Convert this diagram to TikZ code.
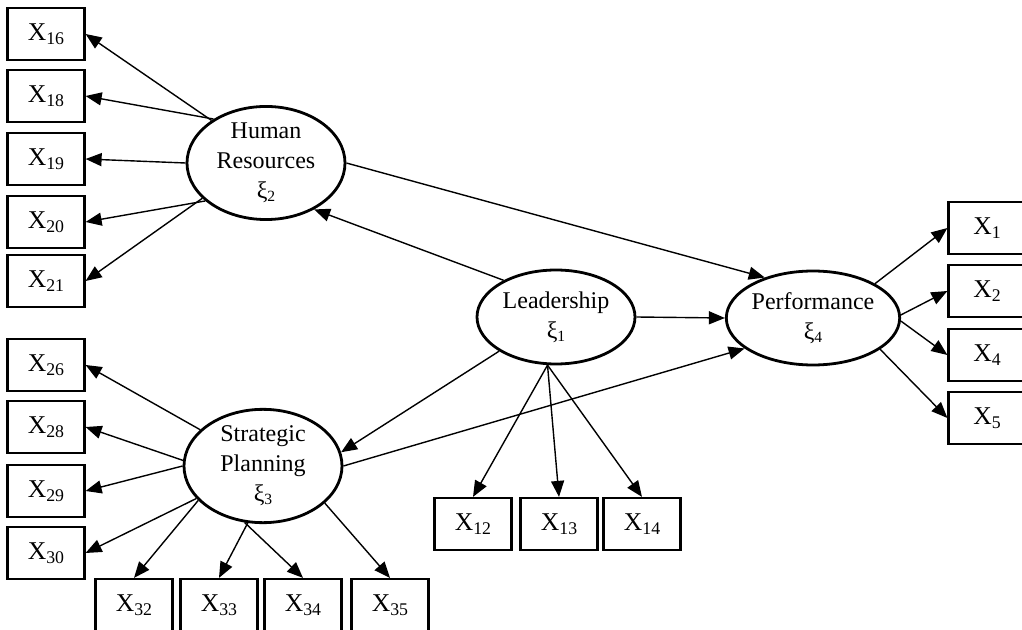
\documentclass[tikz,border=0pt]{standalone}
\usepackage{fontspec}
\setmainfont{Liberation Serif}
\usepackage{tikz}
\usepackage{xcolor}
\usetikzlibrary{shapes.geometric,arrows.meta}

\newcommand{\xv}[1]{X\raisebox{-2pt}{\fontsize{8.9}{9}\selectfont #1}}
\newcommand{\xii}[1]{ξ\raisebox{-1.5pt}{\fontsize{7.8}{8}\selectfont #1}}

\begin{document}
\begin{tikzpicture}[x=0.5pt, y=-0.5pt, >={Triangle[length=8pt,width=6.5pt]},
    ind/.style={draw, line width=1.1pt, minimum width=38.5pt, minimum height=26pt, inner sep=0pt,
        font=\fontsize{12.8}{14}\selectfont},
    lat/.style={draw, ellipse, line width=1.4pt, inner sep=0pt, minimum width=79pt, minimum height=47pt,
        align=center, font=\fontsize{12}{15}\selectfont},
    link/.style={->, line width=0.7pt}]
\useasboundingbox (0,0) rectangle (1022,630);

% latent variables
\node[lat] (hr) at (266,163) {Human\\Resources\\\xii{2}};
\node[lat] (lead) at (556,317) {Leadership\\\xii{1}};
\node[lat] (perf) at (813,318) {Performance\\\xii{4}};
\node[lat] (sp) at (263,466) {Strategic\\Planning\\\xii{3}};

% indicators
\node[ind] (x16) at (46,34) {\xv{16}};
\node[ind] (x18) at (46,96) {\xv{18}};
\node[ind] (x19) at (46,159) {\xv{19}};
\node[ind] (x20) at (46,222) {\xv{20}};
\node[ind] (x21) at (46,281) {\xv{21}};
\node[ind] (x26) at (46,365) {\xv{26}};
\node[ind] (x28) at (46,427) {\xv{28}};
\node[ind] (x29) at (46,491) {\xv{29}};
\node[ind] (x30) at (46,553) {\xv{30}};
\node[ind] (x32) at (134,605) {\xv{32}};
\node[ind] (x33) at (219,605) {\xv{33}};
\node[ind] (x34) at (303,605) {\xv{34}};
\node[ind] (x35) at (390,605) {\xv{35}};
\node[ind] (x12) at (473,524) {\xv{12}};
\node[ind] (x13) at (559,524) {\xv{13}};
\node[ind] (x14) at (642,524) {\xv{14}};
\node[ind] (x1) at (987,228) {\xv{1}};
\node[ind] (x2) at (987,291) {\xv{2}};
\node[ind] (x4) at (987,355) {\xv{4}};
\node[ind] (x5) at (987,418) {\xv{5}};

% structural paths
\draw[link] (lead.145) -- (hr.-44);
\draw[link] (lead.211) -- (sp.10);
\draw[link] (lead.east) -- (perf.west);
\draw[link] (hr.east) -- (perf.140);
\draw[link] (sp.east) -- (perf.204);

% loadings
\draw[link] (hr.142) -- (x16.east);
\draw[link] (hr.140) -- (x18.east);
\draw[link] (hr.west) -- (x19.east);
\draw[link] (hr.212) -- (x20.east);
\draw[link] (hr.209) -- (x21.east);
\draw[link] (sp.150) -- (x26.east);
\draw[link] (sp.176) -- (x28.east);
\draw[link] (sp.west) -- (x29.east);
\draw[link] (sp.206) -- (x30.east);
\draw[link] (sp.208) -- (x32.north);
\draw[link] (sp.255) -- (x33.north);
\draw[link] (sp.252) -- (x34.north);
\draw[link] (sp.-31) -- (x35.north);
\draw[link] (lead.260) -- (x12.north);
\draw[link] (lead.260) -- (x13.north);
\draw[link] (lead.260) -- (x14.north);
\draw[link] (perf.29) -- (x1.west);
\draw[link] (perf.2) -- (x2.west);
\draw[link] (perf.-2) -- (x4.west);
\draw[link] (perf.-25) -- (x5.west);
\end{tikzpicture}
\end{document}
